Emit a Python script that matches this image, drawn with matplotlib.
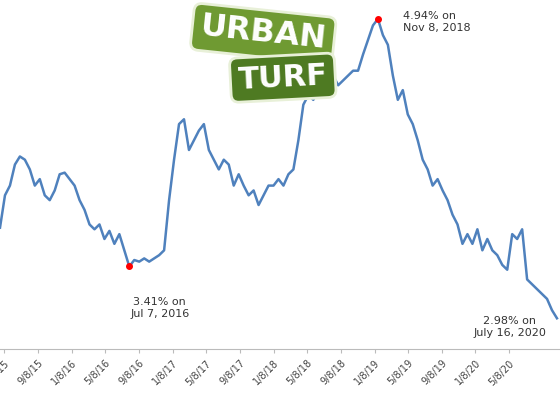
import matplotlib
matplotlib.use("Agg")
import matplotlib.pyplot as plt
import pandas as pd

# weekly-ish 30-year fixed rate readings, start 2015-04-23
start = "2015-04-23"
rates = [3.65, 3.85, 3.91, 4.04, 4.09, 4.07, 4.01, 3.91, 3.95, 3.85, 3.82, 3.88, 3.98, 3.99, 3.95, 3.91, 3.82, 3.76, 3.67, 3.64,
         3.67, 3.58, 3.63, 3.55, 3.61, 3.51, 3.41, 3.45, 3.44, 3.46, 3.44, 3.46, 3.48, 3.51, 3.82, 4.07, 4.29, 4.32, 4.13, 4.19,
         4.25, 4.29, 4.13, 4.07, 4.01, 4.07, 4.04, 3.91, 3.98, 3.91, 3.85, 3.88, 3.79, 3.85, 3.91, 3.91, 3.95, 3.91, 3.98, 4.01,
         4.19, 4.41, 4.47, 4.44, 4.50, 4.47, 4.56, 4.59, 4.53, 4.56, 4.59, 4.62, 4.62, 4.72, 4.81, 4.90, 4.94, 4.84, 4.78, 4.59,
         4.44, 4.50, 4.35, 4.29, 4.19, 4.07, 4.01, 3.91, 3.95, 3.88, 3.82, 3.73, 3.67, 3.55, 3.61, 3.55, 3.64, 3.51, 3.58, 3.51,
         3.48, 3.42, 3.39, 3.61, 3.58, 3.64, 3.33, 3.30, 3.27, 3.24, 3.21, 3.14, 3.09]
dates = pd.date_range(start, periods=len(rates), freq="18D")
tick_dates = pd.date_range("2015-05-01", "2020-05-01", freq="4MS") + pd.Timedelta(days=7)
lo_i, hi_i = 26, 76

fig = plt.figure(figsize=(5.6, 4.2), dpi=100)
ax = fig.add_axes([0, 0.169, 1, 0.831])
ax.plot(dates, rates, color="#4f81bd", lw=1.8)
ax.plot([dates[lo_i], dates[hi_i]], [rates[lo_i], rates[hi_i]], "o", color="red", ms=4, zorder=3)

ax.set_xlim(pd.Timestamp(start), pd.Timestamp(start) + pd.Timedelta(days=2027))
ax.set_ylim(2.90, 5.057)
ax.set_xticks(tick_dates)
ax.set_xticklabels([f"{d.month}/{d.day}/{d.strftime('%y')}" for d in tick_dates],
                   rotation=45, ha="right", rotation_mode="anchor", fontsize=7, color="#444444")
ax.tick_params(axis="x", length=3, color="#bbbbbb")
ax.set_yticks([])
for s in ["top", "right", "left"]:
    ax.spines[s].set_visible(False)
ax.spines["bottom"].set_color("#bbbbbb")

ax.annotate("4.94% on\nNov 8, 2018", (dates[hi_i], rates[hi_i]), xytext=(18, -2),
            textcoords="offset points", fontsize=8, va="center", ha="left", color="#333333")
ax.annotate("3.41% on\nJul 7, 2016", (dates[lo_i], rates[lo_i]), xytext=(22, -22),
            textcoords="offset points", fontsize=8, va="top", ha="center", color="#333333")
fig.text(0.91, 0.195, "2.98% on\nJuly 16, 2020", fontsize=8, ha="center", va="bottom", color="#333333")

# UrbanTurf street-sign logo
fig.text(0.47, 0.92, "URBAN", fontsize=23, fontweight="bold", color="white", rotation=-6,
         ha="center", va="center",
         bbox=dict(boxstyle="round,pad=0.25", fc="#6f9a32", ec="#e8f0d8", lw=2))
fig.text(0.505, 0.815, "TURF", fontsize=22, fontweight="bold", color="white", rotation=3,
         ha="center", va="center",
         bbox=dict(boxstyle="round,pad=0.25", fc="#4e7a22", ec="#e8f0d8", lw=2))

fig.savefig("out.png", dpi=100)
